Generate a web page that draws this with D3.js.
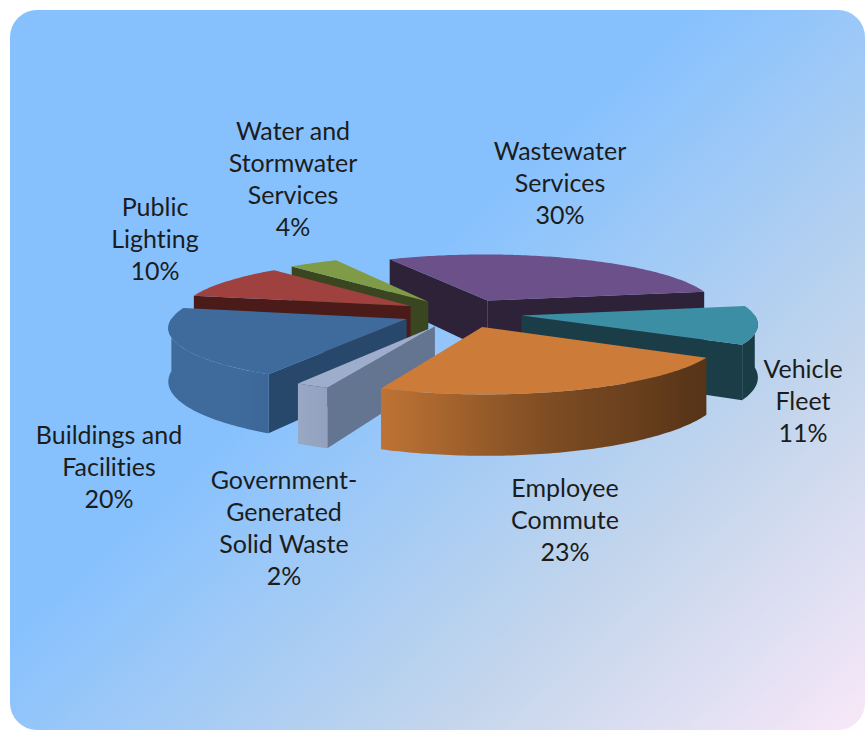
<!DOCTYPE html>
<html>
<head>
<meta charset="utf-8">
<script src="https://cdn.jsdelivr.net/npm/d3@7"></script>
<style>
  html, body { margin: 0; padding: 0; background: #ffffff; }
  svg { display: block; }
  .lbl { font-family: Lato, "Noto Sans", sans-serif; font-size: 25px; fill: #1c1c1c;
         font-variant-ligatures: none; }
</style>
</head>
<body>
<svg id="chart" width="865" height="732"></svg>
<script>
// Chart data (clockwise from the back of the pie)
var categories = ["Wastewater Services", "Vehicle Fleet", "Employee Commute",
  "Government-Generated Solid Waste", "Buildings and Facilities",
  "Public Lighting", "Water and Stormwater Services"];
var values = [30, 11, 23, 2, 20, 10, 4];
var labelLines = [
  ["Wastewater", "Services"],
  ["Vehicle", "Fleet"],
  ["Employee", "Commute"],
  ["Government-", "Generated", "Solid Waste"],
  ["Buildings and", "Facilities"],
  ["Public", "Lighting"],
  ["Water and", "Stormwater", "Services"]
];

// Styles
var topColors  = ["#6b508a", "#3b8ea4", "#cc7b38", "#9dadcb", "#3e6a9c", "#9e413f", "#7f9b47"];
var sideColors = ["#2e2239", "#1a3d47", "#563418", "#637590", "#27476b", "#4b1b19", "#394620"];
// label anchor: centre x, first baseline
var labelPos = [[560, 160], [803, 378], [565, 497], [284, 489], [109, 444], [155, 216], [293, 140]];

// 3D pie geometry
var cx = 462, cy = 313,
    R = 232,          // radius
    S = 0.237,        // vertical squash of the pie plane
    DP = 1811,        // perspective distance
    H = 51.6,         // thickness
    EXP = 60,         // explosion distance
    startDeg = -28;

var svg = d3.select("#chart");
var defs = svg.append("defs");

// Background panel
var bg = defs.append("linearGradient")
  .attr("id", "bg")
  .attr("gradientUnits", "userSpaceOnUse")
  .attr("x1", 700).attr("y1", 0)
  .attr("x2", 1139).attr("y2", 480);
bg.append("stop").attr("offset", 0).attr("stop-color", "#86c1fe");
bg.append("stop").attr("offset", 0.55).attr("stop-color", "#c2d5ec");
bg.append("stop").attr("offset", 1).attr("stop-color", "#f8e8f8");

svg.append("rect")
  .attr("x", 10).attr("y", 10)
  .attr("width", 855).attr("height", 720)
  .attr("rx", 27).attr("ry", 27)
  .attr("fill", "url(#bg)");

// Angles
var toRad = Math.PI / 180;
var pie = d3.pie().sort(null).value(function(d) { return d; })
  .startAngle(startDeg * toRad)
  .endAngle(startDeg * toRad + 2 * Math.PI);
var arcs = pie(values);

function proj(X, Y, Z) {
  var p = 1 / (1 + Y / DP);
  return [cx + X * p, cy - (Y * S + Z) * p];
}

// rim lighting by angle of the outer surface
var shade = d3.scaleLinear()
  .domain([90, 125, 165, 200, 215, 270])
  .range([0.42, 0.42, 0.6, 0.92, 1, 1])
  .clamp(true);

function shadeColor(c, f) {
  var rgb = d3.rgb(c);
  return d3.rgb(rgb.r * f, rgb.g * f, rgb.b * f).formatHex();
}

var line = d3.line();

var slices = arcs.map(function(a, i) {
  var mid = (a.startAngle + a.endAngle) / 2;
  return {
    i: i, a0: a.startAngle, a1: a.endAngle, mid: mid,
    ox: EXP * Math.sin(mid), oy: EXP * Math.cos(mid)
  };
});

// paint from back to front
var order = slices.slice().sort(function(a, b) {
  return Math.cos(b.mid) - Math.cos(a.mid);
});

order.forEach(function(s) {
  var g = svg.append("g").attr("class", "slice");
  function pt(t, r, z) {
    return proj(s.ox + r * Math.sin(t), s.oy + r * Math.cos(t), z);
  }
  function arcPts(t0, t1, z) {
    var n = Math.max(2, Math.ceil(Math.abs(t1 - t0) / toRad));
    return d3.range(n + 1).map(function(k) {
      return pt(t0 + (t1 - t0) * k / n, R, z);
    });
  }

  // radial face at start angle
  if (Math.sin(s.a0) < 0) {
    g.append("path")
      .attr("d", line([pt(0, 0, 0), pt(s.a0, R, 0), pt(s.a0, R, -H), pt(0, 0, -H)]) + "Z")
      .attr("fill", sideColors[s.i]);
  }
  // radial face at end angle
  if (Math.sin(s.a1) > 0) {
    g.append("path")
      .attr("d", line([pt(0, 0, 0), pt(s.a1, R, 0), pt(s.a1, R, -H), pt(0, 0, -H)]) + "Z")
      .attr("fill", sideColors[s.i]);
  }

  // outer rim, front half only
  var t0 = Math.max(s.a0, Math.PI / 2), t1 = Math.min(s.a1, 3 * Math.PI / 2);
  if (t1 > t0) {
    var x1 = pt(t0, R, 0)[0], x2 = pt(t1, R, 0)[0];
    var gid = "rim" + s.i;
    var grad = defs.append("linearGradient")
      .attr("id", gid)
      .attr("gradientUnits", "userSpaceOnUse")
      .attr("x1", x1).attr("y1", 0).attr("x2", x2).attr("y2", 0);
    d3.range(9).forEach(function(k) {
      var t = t0 + (t1 - t0) * k / 8;
      var off = (pt(t, R, 0)[0] - x1) / (x2 - x1);
      grad.append("stop")
        .attr("offset", Math.max(0, Math.min(1, off)))
        .attr("stop-color", shadeColor(topColors[s.i], shade(t / toRad)));
    });
    var rim = arcPts(t0, t1, 0).concat(arcPts(t1, t0, -H));
    g.append("path")
      .attr("d", line(rim) + "Z")
      .attr("fill", "url(#" + gid + ")");
  }

  // top face
  var top = [pt(0, 0, 0)].concat(arcPts(s.a0, s.a1, 0));
  g.append("path")
    .attr("d", line(top) + "Z")
    .attr("fill", topColors[s.i]);
});

// Data labels
var lineH = 32;
var labels = svg.append("g").attr("class", "labels");
categories.forEach(function(name, i) {
  var t = labels.append("text")
    .attr("class", "lbl")
    .attr("text-anchor", "middle")
    .attr("x", labelPos[i][0])
    .attr("y", labelPos[i][1]);
  labelLines[i].concat([values[i] + "%"]).forEach(function(txt, k) {
    t.append("tspan")
      .attr("x", labelPos[i][0])
      .attr("dy", k === 0 ? 0 : lineH)
      .text(txt);
  });
});
</script>
</body>
</html>
